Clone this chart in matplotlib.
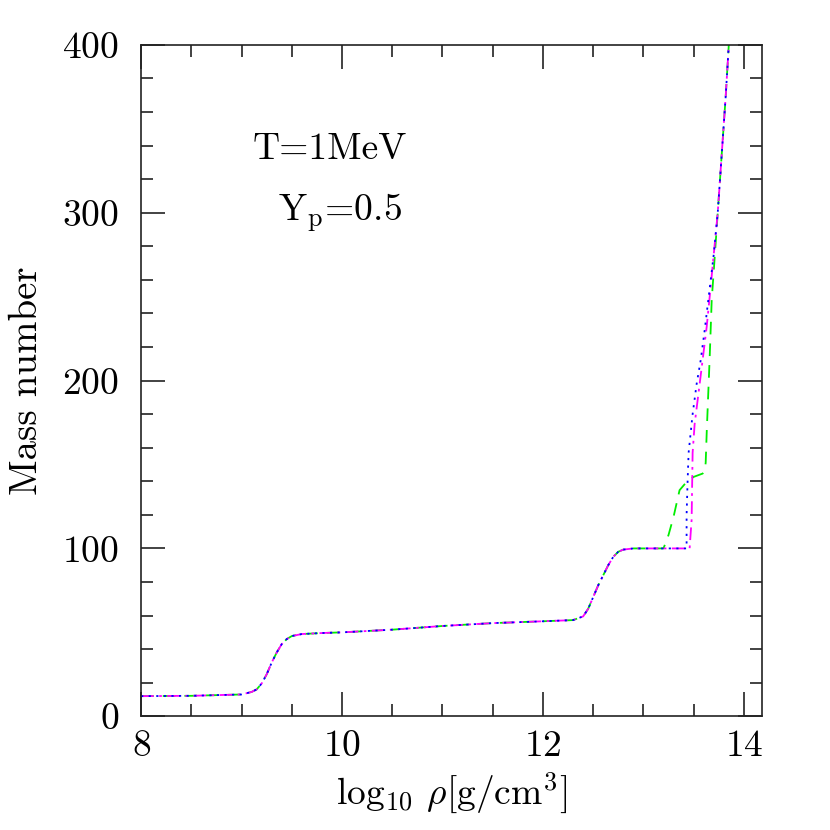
import numpy as np
import matplotlib
matplotlib.use("Agg")
import matplotlib.pyplot as plt
from matplotlib.ticker import MultipleLocator

plt.rcParams['font.family'] = ['cmr10', 'DejaVu Serif']
plt.rcParams['mathtext.fontset'] = 'cm'
plt.rcParams['axes.formatter.use_mathtext'] = True

# shared part of the three curves (log10 rho, mass number)
common_x = [8.0, 8.5, 9.0, 9.1, 9.15, 9.2, 9.25, 9.3, 9.35, 9.4, 9.45, 9.5, 9.6,
            9.8, 10.0, 10.5, 11.0, 11.5, 12.0, 12.3, 12.4, 12.45, 12.5, 12.55,
            12.6, 12.65, 12.7, 12.75, 12.8, 12.9, 13.0, 13.2]
common_A = [12.0, 12.2, 13.0, 14.5, 16.0, 19.5, 25.0, 32.0, 38.0, 43.0, 46.0, 47.8, 49.0,
            49.6, 50.0, 51.6, 53.8, 55.5, 56.6, 57.3, 59.5, 64.0, 71.0, 78.0,
            84.0, 90.0, 95.0, 98.0, 99.3, 100.0, 100.0, 100.0]

# high-density branches
green_x = [13.25, 13.30, 13.36, 13.43, 13.50, 13.59, 13.61, 13.62, 13.63, 13.66, 13.68,
           13.70, 13.74, 13.78, 13.82, 13.86]
green_A = [108.0, 118.8, 134.7, 139.6, 142.6, 144.6, 146.5, 151.0, 168.7, 214.0, 248.0,
           265.0, 300.0, 335.0, 370.0, 410.0]

blue_x = [13.43, 13.43, 13.44, 13.45, 13.49, 13.53, 13.57, 13.61, 13.65, 13.70,
          13.74, 13.78, 13.82, 13.86]
blue_A = [100.0, 120.0, 140.0, 157.0, 180.0, 198.0, 212.0, 230.0, 250.0, 275.0,
          300.0, 335.0, 370.0, 410.0]

magenta_x = [13.46, 13.48, 13.49, 13.51, 13.56, 13.63, 13.66, 13.70, 13.74, 13.78,
             13.82, 13.86]
magenta_A = [100.0, 117.0, 157.0, 174.0, 198.0, 232.0, 250.0, 275.0, 300.0, 335.0,
             370.0, 410.0]


def branch(bx, bA):
    x = np.array(common_x + bx)
    a = np.array(common_A + bA)
    keep = np.concatenate([np.array(common_x) < bx[0], np.ones(len(bx), bool)])
    return x[keep], a[keep]


fig = plt.figure(figsize=(8.3, 8.3), dpi=100)
ax = fig.add_axes([0.170, 0.137, 0.748, 0.809])

x, a = branch(green_x, green_A)
ax.plot(x, a, color='#00ee00', lw=1.3, ls=(0, (7, 5)))
x, a = branch(magenta_x, magenta_A)
ax.plot(x, a, color='#ff00ff', lw=1.3, ls=(0, (7, 3, 1.5, 3)))
x, a = branch(blue_x, blue_A)
ax.plot(x, a, color='#0000ff', lw=1.3, ls=(0, (1.2, 3)))

ax.set_xlim(8, 14.18)
ax.set_ylim(0, 400)
ax.xaxis.set_major_locator(MultipleLocator(2))
ax.xaxis.set_minor_locator(MultipleLocator(0.5))
ax.yaxis.set_major_locator(MultipleLocator(100))
ax.yaxis.set_minor_locator(MultipleLocator(20))
ax.tick_params(which='both', direction='in', top=True, right=True,
               labelsize=27, width=1.2, color='#222222')
ax.tick_params(which='major', length=17)
ax.tick_params(which='minor', length=8.5)
ax.tick_params(axis='x', which='major', pad=10)
ax.tick_params(axis='y', which='major', pad=16)
for s in ax.spines.values():
    s.set_linewidth(1.2)
    s.set_color('#222222')

ax.set_xlabel(r'log$_{10}$ $\rho$[g/cm$^3$]', fontsize=27, labelpad=5)
ax.set_ylabel('Mass number', fontsize=28, labelpad=12)

ax.text(9.88, 338, 'T=1MeV', fontsize=27, ha='center', va='center')
ax.text(9.98, 300, r'Y$_{\rm p}$=0.5', fontsize=27, ha='center', va='center')

fig.savefig('out.png', dpi=100)
